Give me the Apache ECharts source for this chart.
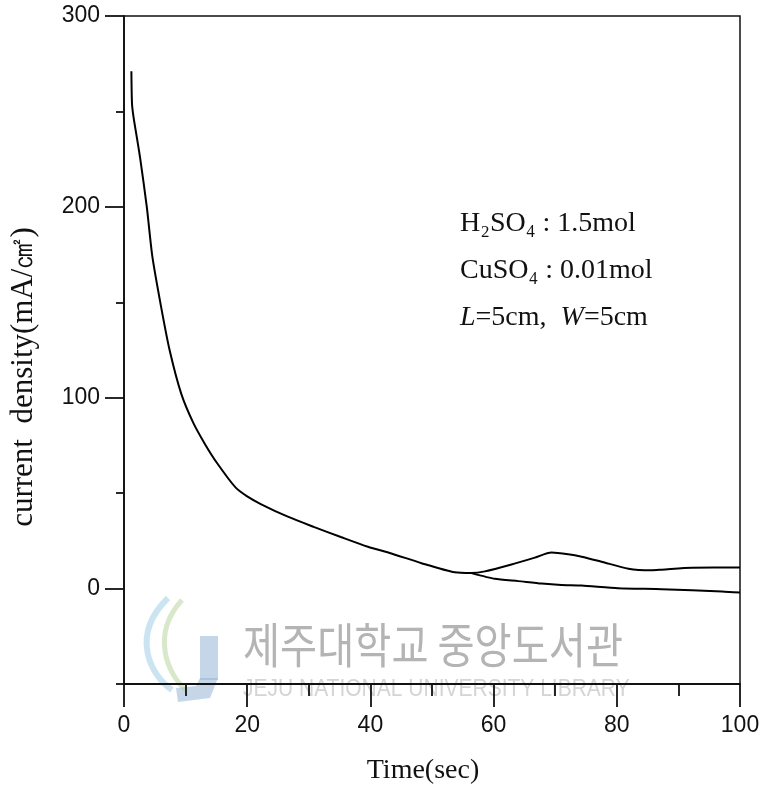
<!DOCTYPE html>
<html>
<head>
<meta charset="utf-8">
<script src="https://cdn.jsdelivr.net/npm/echarts@6/dist/echarts.min.js"></script>
<style>
html,body{margin:0;padding:0;background:#fff;}
#chart{width:759px;height:789px;}
</style>
</head>
<body>
<div id="chart"></div>
<script>
// ---- data ----
var decayTime  = [1.2, 1.3, 1.55, 2.6, 3.7, 4.6, 6.0, 7.4, 9.3, 11.25, 13.2, 15.1, 18.1, 20.0, 22.2, 26.5, 30.9, 35.2, 39.6, 43.4, 48.3, 53.7, 56.4];
var decayValue = [271, 254, 247, 226, 200, 174, 148, 125, 102, 86.8, 75.4, 65.8, 53.0, 48.3, 44.3, 37.8, 32.2, 27.0, 21.9, 18.4, 13.3, 8.5, 8.1];
var upperTime  = [58.6, 62.9, 66.7, 69.4, 72.1, 74.3, 77.5, 81.9, 85.6, 87.3, 92.2, 100];
var upperValue = [9.0, 12.6, 16.2, 18.9, 18.0, 16.7, 14.1, 10.4, 9.6, 9.9, 10.9, 11.0];
var lowerTime  = [60.2, 64.0, 67.8, 71.0, 74.3, 80.2, 87.3, 97.1, 100];
var lowerValue = [5.1, 3.9, 2.6, 1.9, 1.6, 0.2, -0.3, -1.5, -2.1];
var xTicks = [0, 20, 40, 60, 80, 100];
var yMajorTicks = [0, 100, 200, 300];
var yMinorTicks = [-50, 50, 150, 250];
var annotations = ['H\u2082SO\u2084 : 1.5mol', 'CuSO\u2084 : 0.01mol', '{i|L}=5cm,  {i|W}=5cm'];
var yTitle = 'current  density(mA/\u33A0)';
var xTitle = 'Time(sec)';
var watermarkKo = '제주대학교 중앙도서관';
var watermarkEn = 'JEJU NATIONAL UNIVERSITY LIBRARY';

function zip(a, b) { return a.map(function (v, i) { return [v, b[i]]; }); }
var mainData = zip(decayTime, decayValue).concat(zip(upperTime, upperValue));
var lowerData = [[decayTime[decayTime.length - 1], decayValue[decayValue.length - 1]]].concat(zip(lowerTime, lowerValue));

var numFont = '"Liberation Sans", Arial, sans-serif';
var serif = '"Liberation Serif", "DejaVu Serif", serif';
var ink = '#111';

var chart = echarts.init(document.getElementById('chart'), null, {renderer: 'canvas'});
chart.setOption({
  animation: false,
  backgroundColor: '#fff',
  grid: {left: 124, right: 19, top: 16, bottom: 105, show: true, borderColor: ink, borderWidth: 1.5, outerBoundsMode: 'none', containLabel: false},
  xAxis: {
    type: 'value', min: 0, max: 100, interval: 20,
    axisLine: {show: true, onZero: false, lineStyle: {color: ink, width: 1.8}},
    axisTick: {show: true, inside: false, length: 23, lineStyle: {color: ink, width: 1.8}},
    minorTick: {show: true, splitNumber: 2, length: 12, lineStyle: {color: ink, width: 1.8}},
    splitLine: {show: false},
    axisLabel: {fontSize: 23, fontFamily: numFont, color: ink, margin: 30}
  },
  yAxis: [{
    type: 'value', min: -50, max: 300, interval: 50, position: 'left',
    axisLine: {show: true, onZero: false, lineStyle: {color: ink, width: 1.8}},
    axisTick: {show: true, inside: false, length: 19, customValues: yMajorTicks, lineStyle: {color: ink, width: 1.8}},
    axisLabel: {fontSize: 23, fontFamily: numFont, color: ink, margin: 24, customValues: yMajorTicks},
    splitLine: {show: false}
  }, {
    type: 'value', min: -50, max: 300, interval: 50, position: 'left',
    axisLine: {show: false, onZero: false},
    axisTick: {show: true, inside: false, length: 8, customValues: yMinorTicks, lineStyle: {color: ink, width: 1.8}},
    axisLabel: {show: false},
    splitLine: {show: false}
  }],
  series: [{
    type: 'line', data: mainData, showSymbol: false, smooth: 0.25,
    lineStyle: {color: '#000', width: 2}, z: 5
  }, {
    type: 'line', data: lowerData, showSymbol: false, smooth: 0.2,
    lineStyle: {color: '#000', width: 2}, z: 5
  }],
  graphic: [
    // watermark (behind)
    {type: 'rect', z: -1, shape: {x: 200, y: 636, width: 18, height: 44}, style: {fill: 'rgba(150,180,215,0.55)'}},
    {type: 'polygon', z: -1, shape: {points: [[200, 678], [218, 678], [210, 698], [178, 702], [176, 688], [196, 686]]}, style: {fill: 'rgba(150,180,215,0.55)'}},
    {type: 'bezierCurve', z: -1, shape: {x1: 168, y1: 598, cpx1: 130, cpy1: 635, cpx2: 150, cpy2: 675, x2: 172, y2: 690}, style: {stroke: 'rgba(140,195,225,0.45)', lineWidth: 6, fill: null}},
    {type: 'bezierCurve', z: -1, shape: {x1: 182, y1: 600, cpx1: 150, cpy1: 635, cpx2: 168, cpy2: 675, x2: 186, y2: 690}, style: {stroke: 'rgba(170,205,140,0.45)', lineWidth: 5, fill: null}},
    {type: 'text', z: -1, x: 243, y: 645, scaleX: 0.84, style: {text: watermarkKo, fontSize: 48, fontFamily: '"Noto Sans CJK KR", sans-serif', fill: '#b4b4b4', textVerticalAlign: 'middle'}},
    {type: 'text', z: -1, x: 243, y: 689, scaleY: 1.15, style: {text: watermarkEn, fontSize: 21, fontFamily: '"Liberation Sans", sans-serif', fill: '#d4d4d4', textVerticalAlign: 'middle'}},
    // annotations
    {type: 'text', x: 460, y: 224, style: {text: annotations[0], fontSize: 28, fontFamily: serif, fill: ink, textVerticalAlign: 'middle'}},
    {type: 'text', x: 460, y: 271, style: {text: annotations[1], fontSize: 28, fontFamily: serif, fill: ink, textVerticalAlign: 'middle'}},
    {type: 'text', x: 460, y: 318, style: {text: annotations[2], fontSize: 28, fontFamily: serif, fill: ink, textVerticalAlign: 'middle', rich: {i: {fontStyle: 'italic', fontSize: 28, fontFamily: serif}}}},
    // axis titles
    {type: 'text', x: 24, y: 377, rotation: Math.PI / 2, style: {text: yTitle, fontSize: 31, fontFamily: serif, fill: ink, textAlign: 'center', textVerticalAlign: 'middle'}},
    {type: 'text', x: 423, y: 771, style: {text: xTitle, fontSize: 28, fontFamily: serif, fill: ink, textAlign: 'center', textVerticalAlign: 'middle'}}
  ]
});
</script>
</body>
</html>
